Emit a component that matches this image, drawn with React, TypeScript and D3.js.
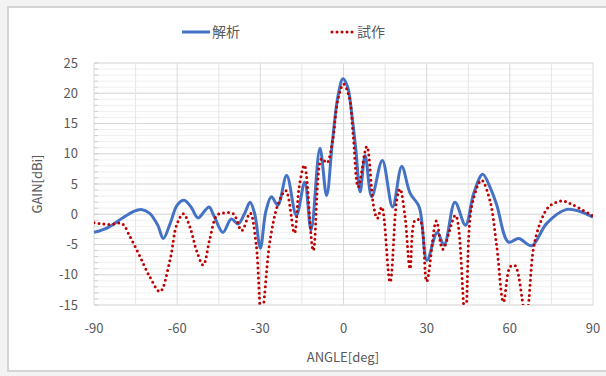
import * as d3 from "d3";

// series names (legend order)
const seriesNames = ["解析", "試作"];

const angleTicks = [-90, -60, -30, 0, 30, 60, 90];
const gainTicks = [-15, -10, -5, 0, 5, 10, 15, 20, 25];

// 解析 (simulation)
const analysisAngle = [
  -90, -85, -80, -76, -73, -70, -67, -65, -62.5, -60, -57.5, -55, -52.5, -50,
  -48.5, -46.5, -43.5, -40.5, -38, -35.5, -33.7, -32, -30, -28, -26, -23.7,
  -20.5, -17, -14, -11.7, -8.5, -6.1, -4, -2, -0.2, 1.5, 3, 4.5, 6, 7.8, 10.2,
  14, 17.7, 21, 24, 27.3, 30.1, 33.8, 36.3, 40.2, 44, 47, 50.2, 53, 55.3, 59.5,
  63.2, 67.9, 73.3, 80.5, 85, 90,
];
const analysisGain = [
  -3, -2.2, -0.7, 0.4, 0.8, 0.2, -1.8, -4, -1.5, 1.5, 2.3, 1.2, -0.6, 0.6, 1.2,
  -0.5, -3, -0.8, -1.6, 0.3, 2, 0, -5.6, 0.5, 2.9, 1.5, 6.4, -0.2, 5.3, -2.6,
  10.9, 3.1, 12, 19.5, 22.4, 21, 16.5, 10.5, 3.7, 9.7, 2.9, 8.9, 1.2, 7.9, 3.5,
  1.2, -7.6, -3, -5.1, 2, -1.8, 3.5, 6.6, 4.3, 1.5, -4.6, -4, -5.2, -1.5, 0.8,
  0.5, -0.5,
];

// 試作 (prototype measurement)
const prototypeAngle = [
  -90, -87, -84, -80, -77, -73.4, -69.8, -66.2, -62.6, -60.2, -57.8, -55.4, -53,
  -50.6, -48.2, -45.7, -43.4, -39.8, -36.7, -33.7, -31.5, -29.6, -26.5, -23.5,
  -20.8, -17.7, -16, -14.1, -10.9, -7.9, -6, -4, -2, 0, 2, 3.5, 5.3, 8.4, 10.8,
  12.2, 13.8, 16.8, 19.2, 20.4, 22.2, 24, 25.8, 27.6, 30, 33.5, 35.8, 40.4, 43.9,
  46.2, 49.8, 52.8, 55.3, 57.7, 60.1, 61.9, 65.8, 68.5, 70.9, 74, 78.7, 83, 90,
];
const prototypeGain = [
  -1.4, -1.6, -1.7, -1.5, -3.7, -7, -10.4, -12.8, -7.6, -1.8, 0.1, -2.1, -6,
  -8.4, -4, -0.2, 0.2, 0.1, -2.7, 0.2, -5, -17, -4.3, 1.8, 3.9, -3.1, 4.5, 8.1,
  -6, 9.2, 8.5, 12, 19, 21.5, 19.5, 13, 4.5, 11.2, 1.5, -0.7, 1.2, -11.2, 2.3,
  4.2, -0.4, -9, -1, -1, -11.1, -1.1, -5.8, -0.2, -17, 1.2, 5.6, 2.3, -5.4,
  -14.5, -8.7, -8.5, -17, -5.7, -1.5, 1.2, 2.2, 1.5, -0.3,
];

const W = 606;
const H = 376;
const plot = { left: 94, right: 593, top: 63, bottom: 305 };
const FONT = "'Noto Sans CJK JP', 'Noto Sans', sans-serif";
const BLUE = "#4472C4";
const RED = "#C00000";
const TEXT = "#595959";
const DOTS = "0 5";

export default function App() {
  const x = d3.scaleLinear().domain([-90, 90]).range([plot.left, plot.right]);
  const y = d3.scaleLinear().domain([-15, 25]).range([plot.bottom, plot.top]);

  const line = d3
    .line<[number, number]>()
    .x((d) => x(d[0]))
    .y((d) => y(d[1]))
    .curve(d3.curveCatmullRom.alpha(0.5));

  const analysis = analysisAngle.map((a, i) => [a, analysisGain[i]] as [number, number]);
  const prototype = prototypeAngle.map((a, i) => [a, prototypeGain[i]] as [number, number]);

  const minorGain = d3.range(-15, 25.001, 1);
  const vGrid = d3.range(-90, 90.001, 15);

  return (
    <svg
      width={W}
      height={H}
      style={{ position: "absolute", left: 0, top: 0, background: "#fff" }}
      fontFamily={FONT}
    >
      <defs>
        <clipPath id="plotClip">
          <rect x={plot.left} y={plot.top} width={plot.right - plot.left} height={plot.bottom - plot.top} />
        </clipPath>
      </defs>
      <rect x={0} y={0} width={W} height={H} fill="#f3f3f3" />
      <rect x={8} y={7} width={W} height={364} fill="#fff" stroke="#d4d4d4" strokeWidth={2} />

      {/* minor horizontal grid */}
      {minorGain.map((g) => (
        <line key={`mg${g}`} x1={plot.left} x2={plot.right} y1={y(g)} y2={y(g)} stroke="#efefef" strokeWidth={1} />
      ))}
      {/* major horizontal grid */}
      {gainTicks.map((g) => (
        <line key={`g${g}`} x1={plot.left} x2={plot.right} y1={y(g)} y2={y(g)} stroke="#d9d9d9" strokeWidth={1} />
      ))}
      {/* vertical grid */}
      {vGrid.map((a) => (
        <line key={`v${a}`} x1={x(a)} x2={x(a)} y1={plot.top} y2={plot.bottom} stroke={a % 30 === 0 ? "#d9d9d9" : "#e6e6e6"} strokeWidth={1} />
      ))}
      {/* minor ticks on the value axis */}
      {minorGain.map((g) => (
        <line key={`t${g}`} x1={plot.left} x2={plot.left + 4} y1={y(g)} y2={y(g)} stroke="#cfcfcf" strokeWidth={1} />
      ))}

      <g clipPath="url(#plotClip)" fill="none">
        <path d={line(analysis) ?? ""} stroke={BLUE} strokeWidth={3} strokeLinejoin="round" />
        <path
          d={line(prototype) ?? ""}
          stroke={RED}
          strokeWidth={3}
          strokeDasharray={DOTS}
          strokeLinecap="round"
        />
      </g>

      {/* tick labels */}
      {gainTicks.map((g) => (
        <text key={`yl${g}`} x={78} y={y(g)} dy="0.35em" textAnchor="end" fontSize={13} fill={TEXT}>
          {g}
        </text>
      ))}
      {angleTicks.map((a) => (
        <text key={`xl${a}`} x={x(a)} y={328} dy="0.35em" textAnchor="middle" fontSize={13} fill={TEXT}>
          {a}
        </text>
      ))}

      {/* axis titles */}
      <text x={343} y={357} dy="0.35em" textAnchor="middle" fontSize={13} fill={TEXT}>
        ANGLE[deg]
      </text>
      <text
        transform={`translate(37,${(plot.top + plot.bottom) / 2}) rotate(-90)`}
        dy="0.35em"
        textAnchor="middle"
        fontSize={13}
        fill={TEXT}
      >
        GAIN[dBi]
      </text>

      {/* legend */}
      <line x1={182} x2={210} y1={32} y2={32} stroke={BLUE} strokeWidth={3} />
      <text x={212} y={32} dy="0.35em" fontSize={14} fill={TEXT}>
        {seriesNames[0]}
      </text>
      <line x1={332} x2={355} y1={32} y2={32} stroke={RED} strokeWidth={3} strokeDasharray={DOTS} strokeLinecap="round" />
      <text x={357} y={32} dy="0.35em" fontSize={14} fill={TEXT}>
        {seriesNames[1]}
      </text>
    </svg>
  );
}
